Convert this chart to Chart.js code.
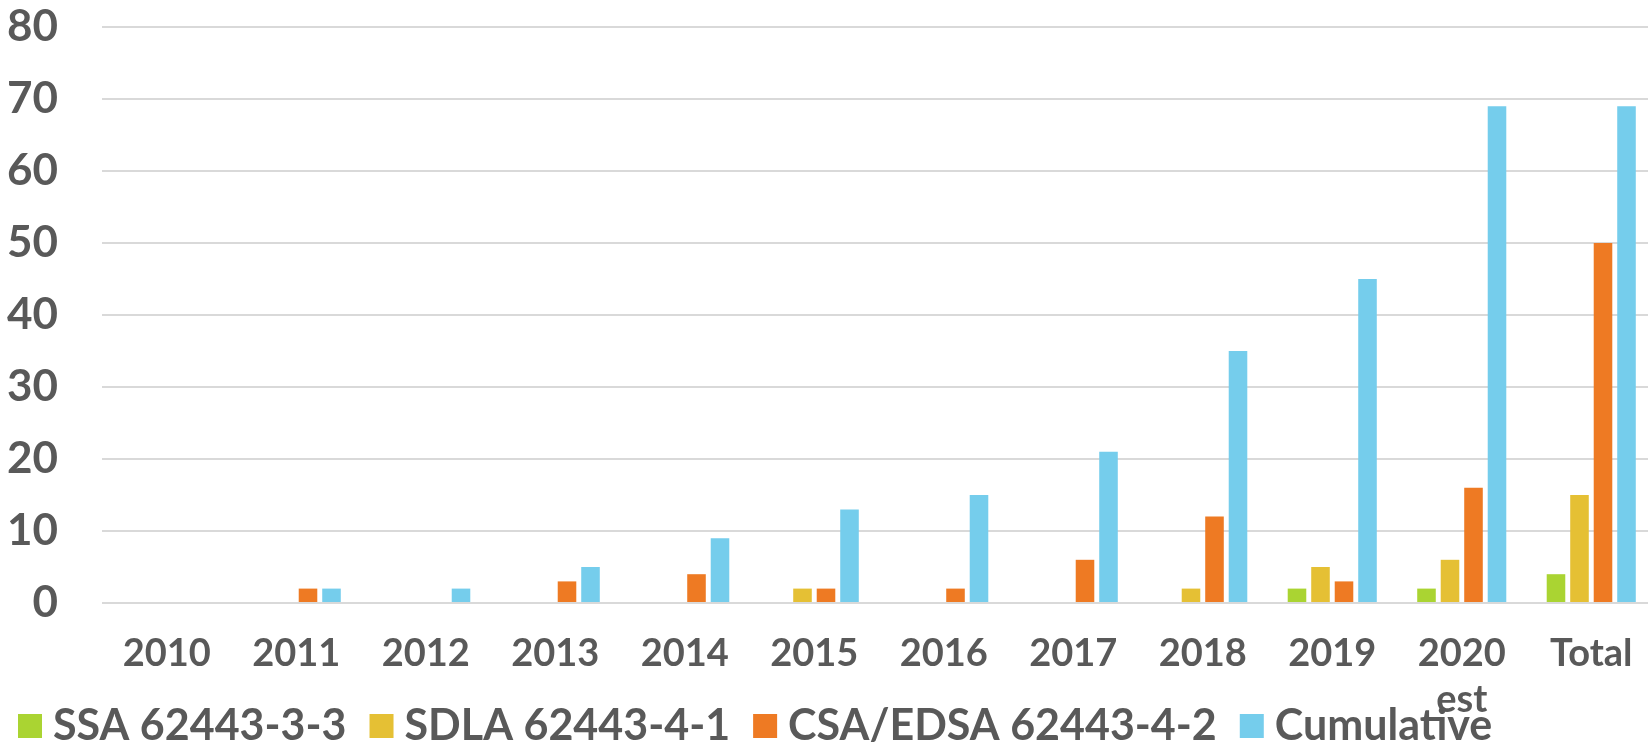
<!DOCTYPE html>
<html>
<head>
<meta charset="utf-8">
<script src="https://cdn.jsdelivr.net/npm/chart.js@4.4.1/dist/chart.umd.min.js"></script>
<style>
  html, body { margin: 0; padding: 0; background: #fff; overflow: hidden; }
  #wrap { width: 1670px; height: 745px; }
</style>
</head>
<body>
<div id="wrap"><canvas id="certChart" width="1670" height="745"></canvas></div>
<script>
const categories = ['2010', '2011', '2012', '2013', '2014', '2015', '2016', '2017', '2018', '2019', ['2020', 'est'], 'Total'];
const ssaValues = [0, 0, 0, 0, 0, 0, 0, 0, 0, 2, 2, 4];
const sdlaValues = [0, 0, 0, 0, 0, 2, 0, 0, 2, 5, 6, 15];
const csaValues = [0, 2, 0, 3, 4, 2, 2, 6, 12, 3, 16, 50];
const cumulativeValues = [0, 2, 2, 5, 9, 13, 15, 21, 35, 45, 69, 69];
const yTicks = [0, 10, 20, 30, 40, 50, 60, 70, 80];

const textGray = '#595959';
const fontFamily = 'Lato, "Open Sans", sans-serif';

function series(label, data, color) {
    return {
        label,
        data,
        backgroundColor: color,
        borderWidth: 0,
        barPercentage: 0.79,
        categoryPercentage: 0.726
    };
}

// legend row under the axis, drawn from the datasets
const bottomLegend = {
    id: 'bottomLegend',
    afterDraw(chart, args, opts) {
        const ctx = chart.ctx;
        ctx.save();
        ctx.font = `bold ${opts.fontSize}px ${fontFamily}`;
        ctx.textBaseline = 'alphabetic';
        let x = opts.left;
        chart.data.datasets.forEach(ds => {
            ctx.fillStyle = ds.backgroundColor;
            ctx.fillRect(x, opts.boxTop, opts.boxSize, opts.boxSize);
            x += opts.boxSize + opts.gap;
            ctx.fillStyle = textGray;
            ctx.fillText(ds.label, x, opts.baseline);
            x += ctx.measureText(ds.label).width + opts.spacing;
        });
        ctx.restore();
    }
};

new Chart(document.getElementById('certChart').getContext('2d'), {
    type: 'bar',
    data: {
        labels: categories,
        datasets: [
            series('SSA 62443-3-3', ssaValues, '#AAD432'),
            series('SDLA 62443-4-1', sdlaValues, '#E5C034'),
            series('CSA/EDSA 62443-4-2', csaValues, '#EE7A23'),
            series('Cumulative', cumulativeValues, '#75CDEC')
        ]
    },
    plugins: [bottomLegend],
    options: {
        responsive: false,
        animation: false,
        devicePixelRatio: 1,
        layout: { padding: { top: 27, right: 14, left: 0, bottom: 0 } },
        scales: {
            x: {
                grid: { display: false, drawTicks: false },
                border: { display: false },
                ticks: {
                    color: textGray,
                    padding: 28,
                    maxRotation: 0,
                    autoSkip: false,
                    font: { family: fontFamily, size: 38, weight: 'bold' }
                },
                afterFit: scale => { scale.height = 142; }
            },
            y: {
                min: 0,
                max: 80,
                afterBuildTicks: scale => { scale.ticks = yTicks.map(v => ({ value: v })); },
                grid: { color: '#d9d9d9', lineWidth: 2, drawTicks: false },
                border: { display: false },
                ticks: {
                    color: textGray,
                    padding: 44,
                    font: { family: fontFamily, size: 44, weight: 'bold' }
                },
                afterFit: scale => {
                    scale.width = 102;
                    scale.paddingTop = 0;
                    scale.paddingBottom = 0;
                }
            }
        },
        plugins: {
            tooltip: { enabled: false },
            legend: { display: false },
            bottomLegend: {
                left: 18,
                boxTop: 714,
                boxSize: 24,
                gap: 11,
                spacing: 23,
                baseline: 740,
                fontSize: 43
            }
        }
    }
});
</script>
</body>
</html>
